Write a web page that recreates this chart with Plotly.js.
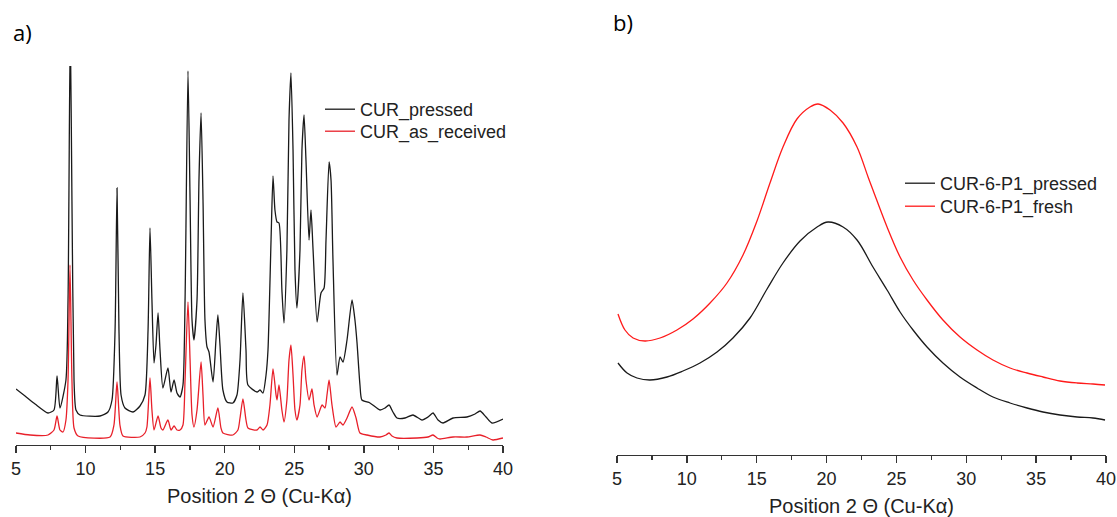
<!DOCTYPE html>
<html>
<head>
<meta charset="utf-8">
<script src="https://cdn.plot.ly/plotly-3.0.1.min.js"></script>
<style>
  html, body { margin: 0; padding: 0; background: #fff; }
  #chart { width: 1117px; height: 517px; }
</style>
</head>
<body>
<div id="chart"></div>
<script>
// ---------- Data ----------
// Panel a) : crystalline curcumin patterns, arbitrary intensity units
const aPressedX = [5.00,5.65,6.37,7.30,7.73,7.95,8.16,8.59,8.74,8.90,9.02,9.17,9.31,9.60,11.04,11.61,11.90,12.12,12.26,12.40,12.55,12.83,13.41,13.91,14.27,14.49,14.63,14.77,14.92,15.06,15.21,15.35,15.56,15.92,16.14,16.36,16.57,16.79,17.00,17.15,17.36,17.51,17.65,17.79,18.01,18.15,18.30,18.44,18.58,18.73,18.87,19.16,19.37,19.51,19.66,19.87,20.16,20.59,20.88,21.10,21.31,21.53,21.67,22.32,22.54,22.75,22.97,23.11,23.33,23.47,23.61,23.76,23.90,24.11,24.26,24.47,24.62,24.76,24.91,25.05,25.19,25.41,25.55,25.70,25.84,26.06,26.20,26.35,26.64,26.92,27.14,27.28,27.50,27.64,27.78,28.07,28.29,28.50,28.79,29.15,29.36,29.51,29.72,29.86,30.44,31.16,31.52,31.81,32.09,32.38,32.96,33.53,34.18,34.61,34.97,35.33,35.69,36.41,37.41,37.99,38.35,38.78,39.21,40.00];
const aPressedY = [56,49,41,32,35,69,37,65,145,420,245,65,35,30,29,33,45,115,257,115,50,37,33,39,50,115,217,145,82,100,132,95,57,77,53,65,52,48,60,145,374,245,125,105,145,265,332,245,125,98,93,63,105,130,100,55,43,42,50,85,152,95,60,53,55,52,70,95,205,269,235,223,222,155,122,195,325,372,295,175,137,195,295,330,285,205,235,195,123,152,157,205,283,265,185,70,88,83,105,145,125,102,60,45,42,35,37,40,33,27,27,30,25,28,32,25,22,27,28,31,34,28,22,26];

const aReceivedX = [5.00,6.01,7.30,7.73,7.95,8.16,8.38,8.59,8.74,8.88,9.02,9.17,9.46,11.76,12.04,12.26,12.47,12.69,13.91,14.27,14.41,14.63,14.77,14.92,15.21,15.42,15.56,15.92,16.14,16.36,16.57,16.79,17.00,17.15,17.36,17.51,17.65,17.79,18.01,18.30,18.44,18.58,18.87,19.16,19.51,19.73,19.87,20.59,20.95,21.10,21.31,21.53,21.67,22.32,22.54,22.75,23.04,23.25,23.47,23.69,23.76,23.90,24.11,24.26,24.47,24.62,24.76,24.91,25.05,25.19,25.41,25.55,25.70,25.84,26.06,26.27,26.42,26.64,27.00,27.21,27.35,27.50,27.71,28.00,28.29,28.50,28.79,29.15,29.44,29.72,30.23,31.16,31.59,31.81,32.02,32.38,33.82,34.61,34.97,35.26,35.47,36.41,37.41,38.35,38.78,39.28,40.00];
const aReceivedY = [12,10,10,15,29,15,13,25,65,180,65,17,9,8,20,63,20,9,8,12,18,67,35,15,29,17,15,25,15,19,15,15,20,65,143,85,30,18,35,83,50,20,28,18,37,17,12,10,15,27,46,25,17,15,18,15,20,40,76,50,45,60,35,23,45,85,100,70,35,25,40,75,89,65,45,56,40,28,40,37,50,65,40,18,23,20,27,38,27,12,10,8,10,12,9,7,7,8,10,7,6,8,8,10,8,5,7];

// Panel b) : amorphous halo patterns, arbitrary intensity units
const bPressedX = [5.07,5.72,6.43,7.36,8.58,9.72,10.94,12.16,13.30,14.52,15.74,16.88,18.10,19.32,20.10,21.18,22.18,23.32,24.33,25.26,26.19,27.19,28.33,29.55,30.77,31.91,33.13,34.35,35.49,36.71,37.93,39.07,39.93];
const bPressedY = [92,82,77,75,78,84,92,103,117,137,166,192,214,228,233,228,215,188,165,143,125,108,92,78,67,58,52,47,43,40,38,37,35];

const bFreshX = [5.07,5.57,6.15,7.00,8.08,9.29,10.44,11.66,12.87,14.02,15.02,15.95,16.88,17.88,18.81,19.39,20.25,21.18,22.18,22.97,23.32,24.33,25.26,26.19,27.19,28.33,29.55,30.77,31.91,33.13,34.35,35.49,36.71,37.93,39.07,39.93];
const bFreshY = [141,125,117,114,117,125,136,152,172,200,234,272,308,336,348,351,345,332,308,278,265,228,198,175,155,135,118,105,95,87,82,78,74,72,71,70];

const seriesNames = ["CUR_pressed", "CUR_as_received", "CUR-6-P1_pressed", "CUR-6-P1_fresh"];
const xTitle = "Position 2 \u0398 (Cu-K\u03B1)";
const panelLabels = ["a)", "b)"];

// ---------- Figure ----------
const W = 1117, H = 517;
const FONT = "Arial, 'Liberation Sans', Helvetica, sans-serif";
const BLACK = "#1a1a1a";
const RED_A = "#e8202a";
const RED_B = "#ff1a1a";

const traces = [
  {x: aPressedX, y: aPressedY, name: seriesNames[0], type: "scatter", mode: "lines",
   line: {color: BLACK, width: 1.3, shape: "spline", smoothing: 0.6}, xaxis: "x", yaxis: "y", legend: "legend"},
  {x: aReceivedX, y: aReceivedY, name: seriesNames[1], type: "scatter", mode: "lines",
   line: {color: RED_A, width: 1.3, shape: "spline", smoothing: 0.6}, xaxis: "x", yaxis: "y", legend: "legend2"},
  {x: bPressedX, y: bPressedY, name: seriesNames[2], type: "scatter", mode: "lines",
   line: {color: BLACK, width: 1.3, shape: "spline", smoothing: 1.0}, xaxis: "x2", yaxis: "y2", legend: "legend3"},
  {x: bFreshX, y: bFreshY, name: seriesNames[3], type: "scatter", mode: "lines",
   line: {color: RED_B, width: 1.3, shape: "spline", smoothing: 1.0}, xaxis: "x2", yaxis: "y2", legend: "legend4"}
];

function xAxis(domain, anchor) {
  return {
    domain: domain, anchor: anchor, range: [5, 40], tick0: 5, dtick: 5,
    showgrid: false, zeroline: false, showline: true, linecolor: "#333", linewidth: 1.4,
    ticks: "outside", ticklen: 7, tickwidth: 1.3, tickcolor: "#333",
    minor: {dtick: 2.5, tick0: 5, ticks: "outside", ticklen: 4, tickwidth: 1.2, tickcolor: "#333", showgrid: false},
    tickfont: {family: FONT, size: 18, color: "#222"},
    title: {text: xTitle, font: {family: FONT, size: 20, color: "#222"}, standoff: 11},
    automargin: false, fixedrange: true
  };
}

function legendAt(px, topPx) {
  return {x: px / W, y: (H - topPx) / H, xanchor: "left", yanchor: "top",
          bgcolor: "rgba(0,0,0,0)", borderwidth: 0,
          font: {family: FONT, size: 18, color: "#222"}};
}

const layout = {
  width: W, height: H,
  margin: {l: 0, r: 0, t: 0, b: 0},
  paper_bgcolor: "#fff", plot_bgcolor: "rgba(0,0,0,0)",
  showlegend: true,
  xaxis: xAxis([16 / W, 503 / W], "y"),
  yaxis: {domain: [(H - 445) / H, (H - 66) / H], range: [0, 379], visible: false, fixedrange: true},
  xaxis2: xAxis([617 / W, 1106 / W], "y2"),
  yaxis2: {domain: [(H - 455) / H, (H - 66) / H], range: [0, 389], visible: false, fixedrange: true},
  legend: legendAt(320, 91),
  legend2: legendAt(320, 113),
  legend3: legendAt(900, 165),
  legend4: legendAt(900, 188),
  annotations: [
    {text: panelLabels[0], xref: "paper", yref: "paper", x: 11 / W, y: (H - 32) / H,
     xanchor: "left", yanchor: "middle", showarrow: false,
     font: {family: "'Open Sans', 'Liberation Sans', sans-serif", size: 22, color: "#000"}},
    {text: panelLabels[1], xref: "paper", yref: "paper", x: 611 / W, y: (H - 22) / H,
     xanchor: "left", yanchor: "middle", showarrow: false,
     font: {family: "'Open Sans', 'Liberation Sans', sans-serif", size: 22, color: "#000"}}
  ]
};

Plotly.newPlot("chart", traces, layout, {staticPlot: true, displayModeBar: false});
</script>
</body>
</html>
